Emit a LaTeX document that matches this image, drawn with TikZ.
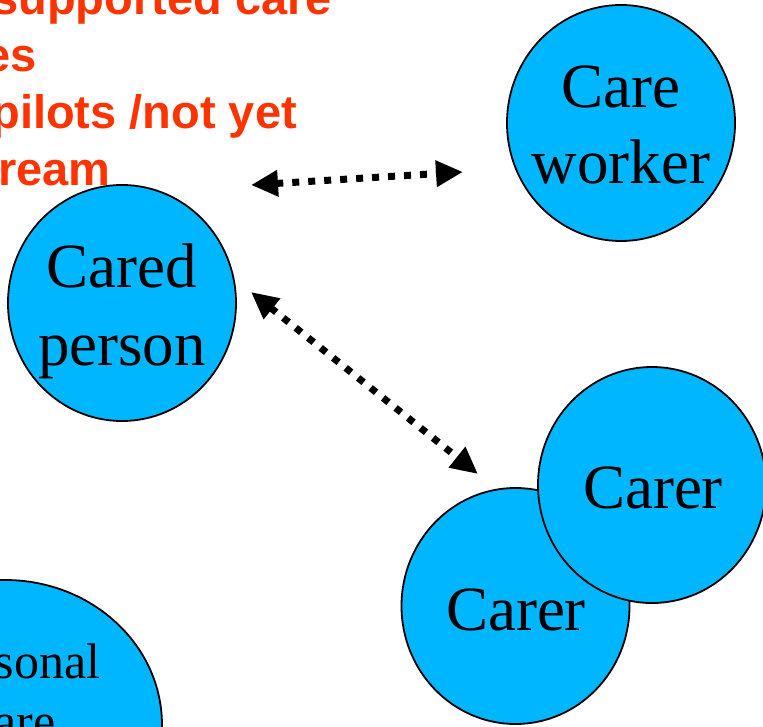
\documentclass[tikz,border=0pt]{standalone}
\usepackage{fontspec}
\setmainfont{Liberation Serif}
\newfontfamily\redfont{Liberation Sans}
\usetikzlibrary{shapes.geometric,arrows.meta}
\definecolor{bubblecol}{HTML}{00B6FF}
\definecolor{redtxt}{HTML}{FF3300}
\begin{document}
\begin{tikzpicture}[x=1pt,y=-1pt,
  bubble/.style={draw=black, line width=1.8pt, fill=bubblecol, ellipse, inner sep=0pt, minimum width=228pt, minimum height=236pt},
  bigbubble/.style={bubble, minimum width=314pt, minimum height=290pt},
  bubbletext/.style={anchor=base, font=\fontsize{63}{76}\selectfont, inner sep=0pt},
  smalltext/.style={anchor=base, font=\fontsize{50}{60}\selectfont, inner sep=0pt},
  redline/.style={anchor=base east, text=redtxt, font=\redfont\bfseries\fontsize{47}{57}\selectfont, inner sep=0pt},
  link/.style={line width=7pt, dash pattern=on 7pt off 9pt, {Triangle[length=27pt,width=25pt]}-{Triangle[length=27pt,width=25pt]}}
]
\useasboundingbox (0,0) rectangle (763,727);
\clip (0,0) rectangle (763,727);

% bubbles
\node[bubble] (cw) at (621,123) {};
\node[bubbletext] (cw1) at (621,108) {Care};
\node[bubbletext] (cw2) at (621,184) {worker};

\node[bubble] (cp) at (122,303) {};
\node[bubbletext] (cp1) at (122,288) {Cared};
\node[bubbletext] (cp2) at (122,365) {person};

\node[bubble] (cl) at (515.5,606) {};
\node[bubbletext] (cl1) at (516,630) {Carer};

\node[bubble] (cu) at (652,485) {};
\node[bubbletext] (cu1) at (653,508) {Carer};

\node[bigbubble] (pc) at (5,725) {};
\node[smalltext] (pc1) at (14,678) {Personal};
\node[smalltext] (pc2) at (14,738) {care};

% connectors
\coordinate (a1s) at (251,185);
\coordinate (a1e) at (463,172);
\coordinate (a2s) at (251,292);
\coordinate (a2e) at (478,474);
\draw[link] (a1s) -- (a1e);
\draw[link] (a2s) -- (a2e);

% red text
\node[redline] (r1) at (332,15) {supported care};
\node[redline] (r2) at (37,72) {es};
\node[redline] (r3) at (297,129) {pilots /not yet};
\node[redline] (r4) at (111,186) {ream};
\end{tikzpicture}
\end{document}
